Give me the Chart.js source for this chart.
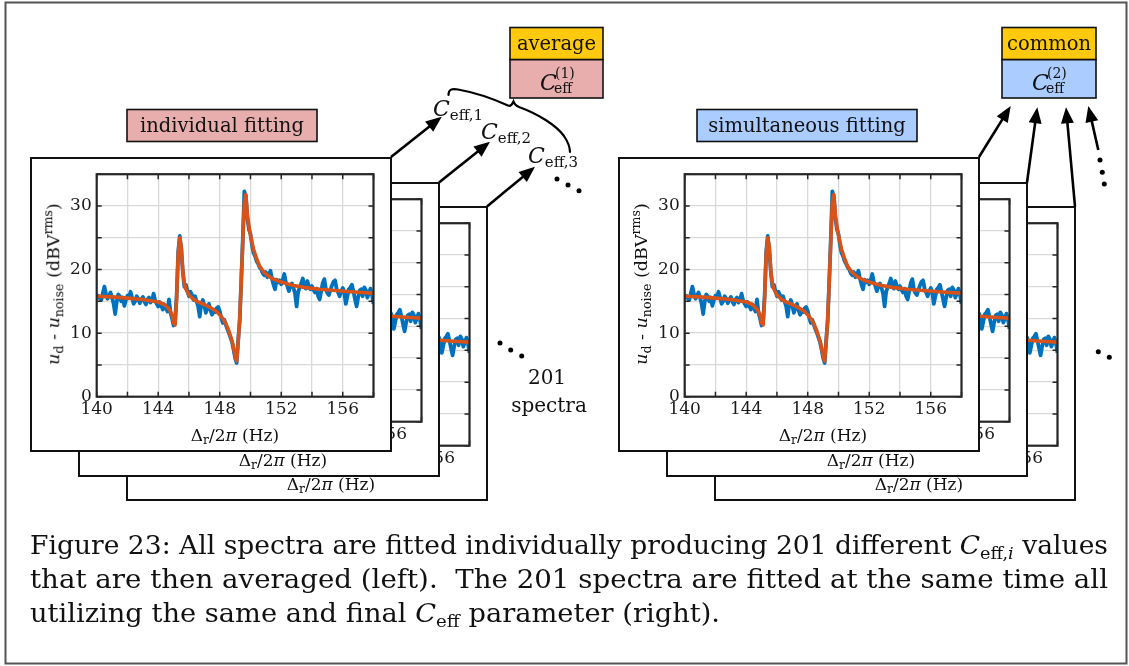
<!DOCTYPE html>
<html>
<head>
<meta charset="utf-8">
<script src="https://cdn.jsdelivr.net/npm/chart.js@4.4.1/dist/chart.umd.min.js"></script>
<style>
  body { margin: 0; background: #fff; }
  #page { position: relative; width: 1129px; height: 666px; overflow: hidden; font-family: "DejaVu Serif", serif; color: #111; }
  .card { position: absolute; width: 362px; height: 295px; border: 2px solid #111; box-sizing: border-box; background: #fff; }
  .card canvas { position: absolute; left: 0; top: 0; }
  .xtitle, .ytitle { position: absolute; white-space: nowrap; font-size: 17px; line-height: 1; }
  .xtitle { transform: translate(-50%, -50%); }
  .ytitle { transform: translate(-50%, -50%) rotate(-90deg); font-size: 17.5px; }
  .xtitle sub, .ytitle sub { font-size: 0.72em; vertical-align: -0.3em; line-height: 0; }
  .ytitle sup { font-size: 0.72em; vertical-align: 0.55em; line-height: 0; }
  #overlay { position: absolute; left: 0; top: 0; }
</style>
</head>
<body>
<div id="page"></div>
<script>
// ---- data ----
// measured spectrum (blue), sampled every 0.1 Hz
const freqHz = [
  140.0, 140.1, 140.2, 140.3, 140.4, 140.5, 140.6, 140.7, 140.8, 140.9,
  141.0, 141.1, 141.2, 141.3, 141.4, 141.5, 141.6, 141.7, 141.8, 141.9,
  142.0, 142.1, 142.2, 142.3, 142.4, 142.5, 142.6, 142.7, 142.8, 142.9,
  143.0, 143.1, 143.2, 143.3, 143.4, 143.5, 143.6, 143.7, 143.8, 143.9,
  144.0, 144.1, 144.2, 144.3, 144.4, 144.5, 144.6, 144.7, 144.8, 144.9,
  145.0, 145.1, 145.2, 145.3, 145.4, 145.5, 145.6, 145.7, 145.8, 145.9,
  146.0, 146.1, 146.2, 146.3, 146.4, 146.5, 146.6, 146.7, 146.8, 146.9,
  147.0, 147.1, 147.2, 147.3, 147.4, 147.5, 147.6, 147.7, 147.8, 147.9,
  148.0, 148.1, 148.2, 148.3, 148.4, 148.5, 148.6, 148.7, 148.8, 148.9,
  149.0, 149.1, 149.2, 149.3, 149.4, 149.5, 149.6, 149.7, 149.8, 149.9,
  150.0, 150.1, 150.2, 150.3, 150.4, 150.5, 150.6, 150.7, 150.8, 150.9,
  151.0, 151.1, 151.2, 151.3, 151.4, 151.5, 151.6, 151.7, 151.8, 151.9,
  152.0, 152.1, 152.2, 152.3, 152.4, 152.5, 152.6, 152.7, 152.8, 152.9,
  153.0, 153.1, 153.2, 153.3, 153.4, 153.5, 153.6, 153.7, 153.8, 153.9,
  154.0, 154.1, 154.2, 154.3, 154.4, 154.5, 154.6, 154.7, 154.8, 154.9,
  155.0, 155.1, 155.2, 155.3, 155.4, 155.5, 155.6, 155.7, 155.8, 155.9,
  156.0, 156.1, 156.2, 156.3, 156.4, 156.5, 156.6, 156.7, 156.8, 156.9,
  157.0, 157.1, 157.2, 157.3, 157.4, 157.5, 157.6, 157.7, 157.8, 157.9,
  158.0
];
const spectrumDb = [
  15.4, 15.9, 15.5, 15.2, 16.3, 17.3, 16.2, 15.4, 15.9, 16.4,
  15.6, 14.6, 13.0, 14.9, 16.1, 15.8, 15.0, 15.6, 14.3, 15.2,
  15.9, 15.5, 16.5, 15.6, 14.6, 15.0, 15.8, 15.4, 14.7, 15.3,
  15.7, 15.0, 14.5, 15.3, 15.6, 14.8, 15.2, 16.2, 15.1, 14.6,
  14.2, 14.9, 14.3, 13.7, 14.5, 14.1, 13.4, 15.3, 13.2, 12.3,
  11.2, 12.0, 16.0, 22.8, 25.3, 23.2, 19.6, 17.3, 17.6, 16.6,
  15.8, 16.5, 16.0, 15.2, 15.8, 14.9, 14.2, 12.6, 14.6, 15.2,
  14.3, 13.2, 14.0, 14.6, 13.6, 12.9, 13.7, 13.3, 13.9, 14.1,
  13.5, 12.4, 11.6, 12.1, 11.3, 10.6, 10.0, 9.3, 8.6, 7.4,
  6.1, 5.3, 8.9, 11.9, 18.3, 24.8, 32.3, 31.5, 28.0, 26.3,
  25.6, 23.8, 22.6, 22.1, 21.3, 20.9, 20.3, 20.0, 19.4, 19.1,
  19.6, 18.8, 19.3, 19.8, 18.5, 17.6, 16.9, 18.4, 18.0, 18.3,
  17.7, 18.4, 19.3, 18.0, 17.4, 16.6, 17.5, 17.8, 17.1, 16.2,
  14.2, 16.5, 17.2, 17.8, 18.6, 17.6, 17.0, 18.2, 17.3, 16.9,
  17.4, 16.8, 16.4, 17.0, 15.8, 15.3, 16.6, 17.9, 18.5, 17.0,
  16.3, 16.0, 16.8, 17.5, 18.1, 18.3, 17.0, 16.4, 15.8, 16.6,
  17.1, 16.4, 14.6, 15.8, 16.9, 17.2, 17.6, 16.5, 15.3, 14.2,
  15.6, 16.7, 16.9, 15.8, 17.2, 16.8, 15.6, 16.3, 17.0, 16.1,
  14.6
];
// fitted curve (orange)
const fitHz = [
  140, 141, 142, 143, 143.5, 144, 144.4, 144.7, 144.9, 145.0,
  145.1, 145.2, 145.3, 145.4, 145.5, 145.6, 145.7, 145.8, 146.0, 146.3,
  146.6, 147.0, 147.4, 147.8, 148.1, 148.4, 148.6, 148.8, 148.9, 149.0,
  149.1, 149.2, 149.3, 149.4, 149.5, 149.6, 149.7, 149.8, 149.9, 150.0,
  150.2, 150.4, 150.6, 150.8, 151.0, 151.4, 151.8, 152.2, 152.8, 153.5,
  154.5, 155.5, 156.5, 157.5, 158
];
const fitDb = [
  15.8, 15.7, 15.5, 15.3, 15.1, 14.9, 14.5, 13.8, 12.9, 11.6,
  11.3, 15.5, 22.5, 25.0, 23.5, 19.8, 17.8, 16.9, 16.0, 15.3,
  14.9, 14.5, 14.0, 13.4, 12.6, 11.5, 10.3, 8.8, 7.7, 6.4,
  5.6, 8.5, 12.4, 18.0, 24.5, 30.5, 31.8, 28.6, 26.8, 25.4,
  23.2, 21.7, 20.5, 19.8, 19.3, 18.6, 18.2, 17.9, 17.5, 17.2,
  16.9, 16.7, 16.5, 16.35, 16.3
];
const xTickLabels = [140, 144, 148, 152, 156];
const yTickLabels = [0, 10, 20, 30];

const page = document.getElementById('page');
const SVGNS = 'http://www.w3.org/2000/svg';

// MATLAB-like box with inward ticks on all four sides
const axesBox = {
  id: 'axesBox',
  afterDraw(chart) {
    const { ctx, chartArea: a, scales: { x, y } } = chart;
    ctx.save();
    ctx.strokeStyle = '#262626';
    ctx.lineWidth = 1.5;
    ctx.beginPath();
    x.ticks.forEach(t => {
      const px = x.getPixelForValue(t.value);
      ctx.moveTo(px, a.bottom); ctx.lineTo(px, a.bottom - 5);
      ctx.moveTo(px, a.top); ctx.lineTo(px, a.top + 5);
    });
    y.ticks.forEach(t => {
      const py = y.getPixelForValue(t.value);
      ctx.moveTo(a.left, py); ctx.lineTo(a.left + 5, py);
      ctx.moveTo(a.right, py); ctx.lineTo(a.right - 5, py);
    });
    ctx.stroke();
    ctx.lineWidth = 2.2;
    ctx.strokeRect(a.left, a.top, a.right - a.left, a.bottom - a.top);
    ctx.restore();
  }
};

function makeCard(left, top) {
  const card = document.createElement('div');
  card.className = 'card';
  card.style.left = left + 'px';
  card.style.top = top + 'px';
  const canvas = document.createElement('canvas');
  canvas.width = 358; canvas.height = 291;
  card.appendChild(canvas);
  const xt = document.createElement('div');
  xt.className = 'xtitle';
  xt.style.left = '203px'; xt.style.top = '276px';
  xt.innerHTML = 'Δ<sub>r</sub>/2<i>π</i> (Hz)';
  card.appendChild(xt);
  const yt = document.createElement('div');
  yt.className = 'ytitle';
  yt.style.left = '22px'; yt.style.top = '125px';
  yt.innerHTML = '<i>u</i><sub>d</sub> - <i>u</i><sub>noise</sub> (dBV<sup>rms</sup>)';
  card.appendChild(yt);
  page.appendChild(card);

  new Chart(canvas, {
    type: 'line',
    data: {
      datasets: [
        {
          label: 'fit',
          data: fitHz.map((f, i) => ({ x: f, y: fitDb[i] })),
          borderColor: '#D95319', borderWidth: 3.6,
          pointRadius: 0, tension: 0, borderJoinStyle: 'round'
        },
        {
          label: 'measured',
          data: freqHz.map((f, i) => ({ x: f, y: spectrumDb[i] })),
          borderColor: '#0072BD', borderWidth: 3.8,
          pointRadius: 0, tension: 0, borderJoinStyle: 'round'
        }
      ]
    },
    options: {
      responsive: false, animation: false, devicePixelRatio: 1,
      layout: { padding: { left: 0, top: 12, right: 16.5, bottom: 0 } },
      plugins: { legend: { display: false }, tooltip: { enabled: false } },
      scales: {
        x: {
          type: 'linear', min: 140, max: 158,
          afterFit: s => { s.height = 53.3; },
          grid: { color: '#d9d9d9', lineWidth: 1.3, drawTicks: false },
          border: { display: false },
          ticks: {
            stepSize: 2, padding: 3, maxRotation: 0, autoSkip: false,
            color: '#1a1a1a', font: { family: 'DejaVu Serif', size: 17 },
            callback: v => xTickLabels.includes(v) ? String(v) : ''
          }
        },
        y: {
          type: 'linear', min: 0, max: 35,
          afterFit: s => { s.width = 64.7; },
          grid: { color: '#d9d9d9', lineWidth: 1.3, drawTicks: false },
          border: { display: false },
          ticks: {
            stepSize: 5, padding: 5, autoSkip: false,
            color: '#1a1a1a', font: { family: 'DejaVu Serif', size: 17 },
            callback: v => yTickLabels.includes(v) ? String(v) : ''
          }
        }
      }
    },
    plugins: [axesBox]
  });
}

// two stacks of three spectra, back to front
const stackOffsets = [[96, 49], [48, 25], [0, 0]];
[30, 618].forEach(gx => {
  stackOffsets.forEach(([dx, dy]) => makeCard(gx + dx, 157 + dy));
});

// ---- annotations ----
const svg = document.createElementNS(SVGNS, 'svg');
svg.setAttribute('id', 'overlay');
svg.setAttribute('width', 1129);
svg.setAttribute('height', 666);
page.appendChild(svg);

function el(name, attrs, text) {
  const e = document.createElementNS(SVGNS, name);
  Object.entries(attrs).forEach(([k, v]) => e.setAttribute(k, v));
  if (text !== undefined) e.textContent = text;
  svg.appendChild(e);
  return e;
}

el('rect', { x: 5.5, y: 2.5, width: 1121, height: 661, fill: 'none', stroke: '#555', 'stroke-width': 2 });

function arrow(x1, y1, x2, y2) {
  const len = Math.hypot(x2 - x1, y2 - y1);
  const ux = (x2 - x1) / len, uy = (y2 - y1) / len;
  const hl = 16, hw = 6.5;
  const bx = x2 - ux * hl, by = y2 - uy * hl;
  el('line', { x1, y1, x2: bx + ux * 2, y2: by + uy * 2, stroke: '#000', 'stroke-width': 2.6 });
  el('polygon', {
    points: `${x2},${y2} ${bx - uy * hw},${by + ux * hw} ${bx + uy * hw},${by - ux * hw}`,
    fill: '#000'
  });
}
arrow(391, 157, 441.7, 116.7);
arrow(439, 182.5, 490, 141.7);
arrow(487, 206.5, 535, 166.7);
arrow(979, 157, 1010.7, 106);
arrow(1027, 182.5, 1037.3, 107.3);
arrow(1075, 206.5, 1066, 107.3);
arrow(1098.3, 150, 1088.3, 106);

// brace over the C_eff,i values
el('path', {
  d: 'M448.5,95 C448.5,89 452,88.5 458,89.5 C478,93 498,101 508,105.5 C510,106.3 512,105 513.5,101.5 C514.5,104.5 516,106 519,107 C538,114 556,125 564,136 C568,142 570,147 570,152',
  fill: 'none', stroke: '#000', 'stroke-width': 2.2, 'stroke-linecap': 'round'
});

[[557, 179], [568, 185], [579, 190.7], [500, 343], [510.7, 350], [521.7, 356],
 [1100, 160], [1102.3, 172.3], [1104.3, 184], [1098.3, 351.7], [1109.3, 357.3]]
  .forEach(([cx, cy]) => el('circle', { cx, cy, r: 2.5, fill: '#000' }));

// labelled boxes
function labelBox(x, y, w, h, fill, label) {
  el('rect', { x, y, width: w, height: h, fill, stroke: '#111', 'stroke-width': 1.6 });
  el('text', { x: x + w / 2, y: y + h / 2 + 6.5, 'text-anchor': 'middle', 'font-family': 'DejaVu Serif', 'font-size': 19.5, fill: '#111' }, label);
}
labelBox(127, 109.5, 190, 32, '#e8aeae', 'individual fitting');
labelBox(697, 109.5, 220, 32, '#aaccff', 'simultaneous fitting');
labelBox(510, 59.5, 93, 38.5, '#e8aeae', '');
labelBox(510, 27.5, 93, 32, '#ffc90e', 'average');
labelBox(1002, 59.5, 94, 38.5, '#aaccff', '');
labelBox(1002, 27.5, 94, 32, '#ffc90e', 'common');

function cEffStacked(x, base, sup) {
  el('text', { x, y: base, 'font-family': 'DejaVu Serif', 'font-style': 'italic', 'font-size': 22, fill: '#111' }, 'C');
  el('text', { x: x + 15, y: base - 12, 'font-family': 'DejaVu Serif', 'font-size': 14, fill: '#111' }, sup);
  el('text', { x: x + 14, y: base + 3, 'font-family': 'DejaVu Serif', 'font-size': 14, fill: '#111' }, 'eff');
}
cEffStacked(540, 90, '(1)');
cEffStacked(1032, 90, '(2)');

function cEffIndexed(x, base, idx) {
  const t = el('text', { x, y: base, 'font-family': 'DejaVu Serif', 'font-size': 22, fill: '#111' });
  const c = document.createElementNS(SVGNS, 'tspan');
  c.setAttribute('font-style', 'italic'); c.textContent = 'C';
  const s = document.createElementNS(SVGNS, 'tspan');
  s.setAttribute('font-size', 15); s.setAttribute('dy', 4); s.textContent = 'eff,' + idx;
  t.appendChild(c); t.appendChild(s);
}
cEffIndexed(433, 116, 1);
cEffIndexed(481, 139, 2);
cEffIndexed(528, 162.5, 3);

el('text', { x: 547, y: 384, 'text-anchor': 'middle', 'font-family': 'DejaVu Serif', 'font-size': 20, fill: '#111' }, '201');
el('text', { x: 549, y: 412, 'text-anchor': 'middle', 'font-family': 'DejaVu Serif', 'font-size': 20, fill: '#111' }, 'spectra');

// caption, each line stretched to the width it has in the figure
function captionLine(y, width, parts) {
  const t = el('text', {
    x: 30, y, 'font-family': 'DejaVu Serif', 'font-size': 25.5, fill: '#111',
    textLength: width, lengthAdjust: 'spacingAndGlyphs'
  });
  parts.forEach(p => {
    const s = document.createElementNS(SVGNS, 'tspan');
    if (p.italic) s.setAttribute('font-style', 'italic');
    if (p.size) s.setAttribute('font-size', p.size);
    if (p.dy) s.setAttribute('dy', p.dy);
    s.textContent = p.t;
    t.appendChild(s);
  });
}
captionLine(554, 1078, [
  { t: 'Figure 23: All spectra are fitted individually producing 201 different ' },
  { t: 'C', italic: true }, { t: 'eff,', size: 17, dy: 5 }, { t: 'i', size: 17, italic: true },
  { t: ' values', dy: -5 }
]);
captionLine(588, 1078, [{ t: 'that are then averaged (left).\u00a0 The 201 spectra are fitted at the same time all' }]);
captionLine(622, 690, [
  { t: 'utilizing the same and final ' }, { t: 'C', italic: true }, { t: 'eff', size: 17, dy: 5 },
  { t: ' parameter (right).', dy: -5 }
]);
</script>
</body>
</html>
